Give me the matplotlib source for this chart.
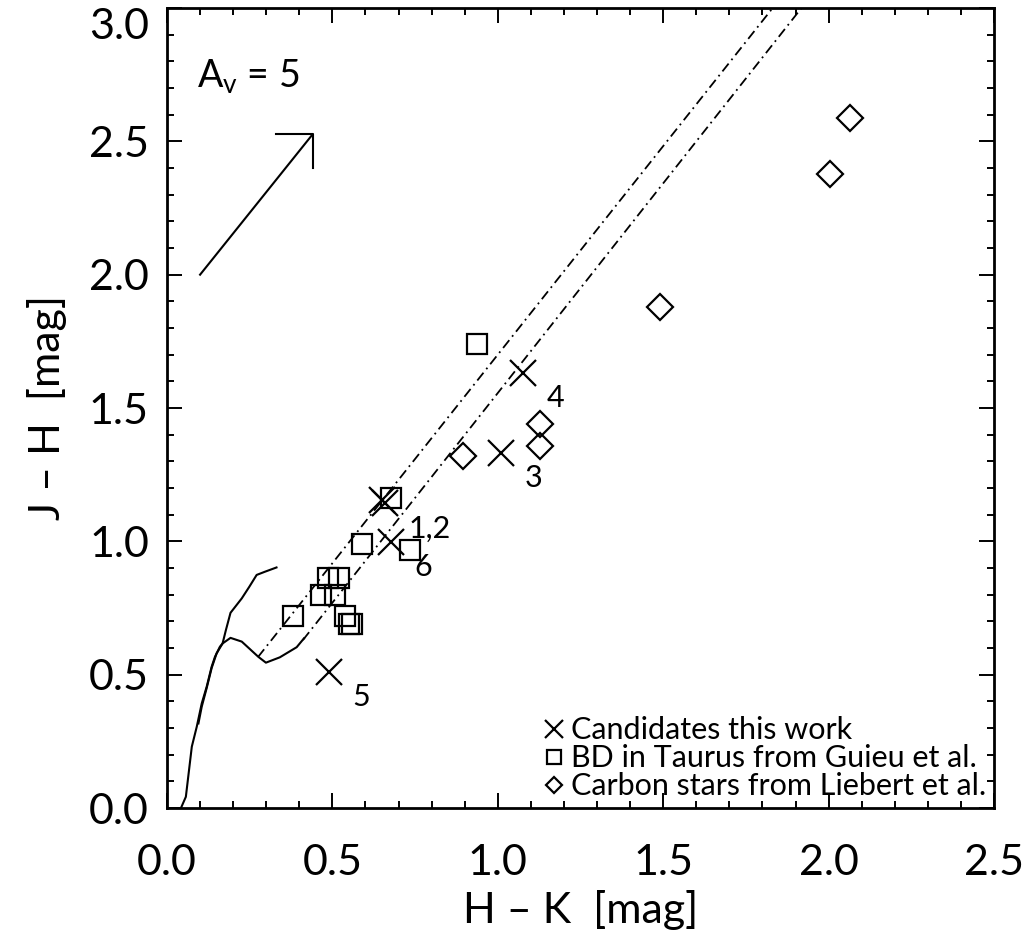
"""J-H vs H-K colour-colour diagram of the candidates."""

import matplotlib
matplotlib.use("Agg")
import matplotlib.pyplot as plt
from matplotlib import font_manager
from matplotlib.ticker import MultipleLocator

# candidates from this work
cand_hk = [0.649, 0.659, 1.009, 1.075, 0.490, 0.676]
cand_jh = [1.155, 1.142, 1.330, 1.632, 0.509, 0.999]
cand_lab = ["", "1,2", "3", "4", "5", "6"]

# brown dwarfs in Taurus (Guieu et al.)
bd_hk = [0.936, 0.677, 0.588, 0.736, 0.487, 0.519, 0.467, 0.508, 0.380, 0.538, 0.550, 0.558]
bd_jh = [1.740, 1.161, 0.990, 0.969, 0.861, 0.861, 0.799, 0.799, 0.720, 0.720, 0.690, 0.690]

# carbon stars (Liebert et al.)
carbon_hk = [2.066, 2.005, 1.489, 1.127, 1.127, 0.895]
carbon_jh = [2.586, 2.377, 1.879, 1.440, 1.357, 1.320]

# main sequence (dwarfs) and giant branch
dwarf_hk = [0.044, 0.057, 0.075, 0.090, 0.105, 0.120, 0.135, 0.145, 0.160, 0.168,
            0.192, 0.226, 0.276, 0.299, 0.341, 0.392, 0.414]
dwarf_jh = [0.005, 0.042, 0.230, 0.305, 0.392, 0.455, 0.530, 0.567, 0.605, 0.617,
            0.638, 0.624, 0.567, 0.545, 0.565, 0.603, 0.636]
giant_hk = [0.095, 0.105, 0.120, 0.135, 0.150, 0.168, 0.178, 0.192, 0.226, 0.249,
            0.271, 0.296, 0.331]
giant_jh = [0.317, 0.380, 0.450, 0.525, 0.580, 0.617, 0.667, 0.732, 0.786, 0.830,
            0.874, 0.886, 0.902]

# reddening band limits
band_upper_hk = [0.275, 1.831]
band_upper_jh = [0.566, 3.000]
band_lower_hk = [0.411, 1.918]
band_lower_jh = [0.630, 3.000]

# A_V = 5 reddening vector
vec_hk = [0.100, 0.440]
vec_jh = [2.000, 2.526]
head_hk = [0.331, 0.440, 0.440]
head_jh = [2.526, 2.526, 2.400]

_names = {f.name for f in font_manager.fontManager.ttflist}
FONT = next((f for f in ["Lato", "Roboto", "Open Sans"] if f in _names), "DejaVu Sans")
plt.rcParams["font.family"] = [FONT, "DejaVu Sans"]
plt.rcParams["mathtext.fontset"] = "custom"
plt.rcParams["mathtext.rm"] = FONT

fig = plt.figure(figsize=(10.31, 9.40), dpi=100)
ax = fig.add_axes([167 / 1031, 132 / 940, 827 / 1031, 800 / 940])

lw = 1.5
ax.plot(dwarf_hk, dwarf_jh, color="black", lw=lw)
ax.plot(giant_hk, giant_jh, color="black", lw=lw)
for xs, ys in ((band_upper_hk, band_upper_jh), (band_lower_hk, band_lower_jh)):
    ax.plot(xs, ys, color="black", lw=1.3, linestyle=(0, (5.5, 2.5, 1, 2.5)))

ax.plot(vec_hk, vec_jh, color="black", lw=lw)
ax.plot(head_hk, head_jh, color="black", lw=lw)
ax.text(0.09, 2.70, r"A$_\mathrm{v}$ = 5", fontsize=27, ha="left", va="baseline")

ax.plot(cand_hk, cand_jh, linestyle="none", marker="x", ms=19, mew=1.6,
        color="black", label="Candidates this work")
ax.plot(bd_hk, bd_jh, linestyle="none", marker="s", ms=14.5, mew=1.6,
        mfc="none", mec="black", label="BD in Taurus from Guieu et al.")
ax.plot(carbon_hk, carbon_jh, linestyle="none", marker="D", ms=13, mew=1.6,
        mfc="none", mec="black", label="Carbon stars from Liebert et al.")

for x, y, lab in zip(cand_hk, cand_jh, cand_lab):
    if lab:
        ax.annotate(lab, (x, y), xytext=(17, -18), textcoords="offset points",
                    fontsize=22, ha="left", va="center")

leg = ax.legend(loc="lower right", frameon=False, fontsize=22, markerscale=0.65,
                handlelength=0.5, handletextpad=0.3, labelspacing=0.0,
                borderpad=0.0, borderaxespad=0.25)

ax.set_xlim(0.0, 2.5)
ax.set_ylim(0.0, 3.0)
ax.xaxis.set_major_locator(MultipleLocator(0.5))
ax.xaxis.set_minor_locator(MultipleLocator(0.1))
ax.yaxis.set_major_locator(MultipleLocator(0.5))
ax.yaxis.set_minor_locator(MultipleLocator(0.1))
ax.xaxis.set_major_formatter(lambda v, pos: "%.1f" % v)
ax.yaxis.set_major_formatter(lambda v, pos: "%.1f" % v)
ax.tick_params(which="both", direction="in", top=True, right=True, width=1.4)
ax.tick_params(which="major", length=10.5)
ax.tick_params(which="minor", length=5)
ax.tick_params(axis="x", which="major", pad=26, labelsize=31)
ax.tick_params(axis="y", which="major", pad=13, labelsize=31)
for sp in ax.spines.values():
    sp.set_linewidth(2)

ax.set_xlabel("H \u2013 K  [mag]", fontsize=31, labelpad=6)
ax.set_ylabel("J \u2013 H  [mag]", fontsize=31, labelpad=16)

# keep the top y label inside the canvas, as in the original
fig.canvas.draw()
for tick in ax.yaxis.get_major_ticks():
    if abs(tick.get_loc() - 3.0) < 1e-6:
        tick.label1.set_verticalalignment("top")

fig.savefig("out.png", dpi=100)
